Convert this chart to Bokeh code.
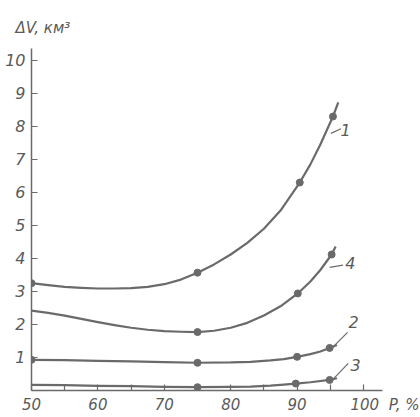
from bokeh.plotting import figure
from bokeh.models import Range1d, FixedTicker, Label, Title
from bokeh.embed import file_html
from bokeh.resources import INLINE

# ---- data ----
# smooth curve traces (P, %) -> dV (km^3)
c1_x = [50, 52.5, 55, 57.5, 60, 62.5, 65, 67.5, 70, 72.5, 75, 77.5, 80, 82.5, 85, 87.5, 90.4, 92, 93.5, 95.4, 96.2]
c1_y = [3.25, 3.19, 3.14, 3.11, 3.09, 3.09, 3.10, 3.14, 3.22, 3.36, 3.57, 3.82, 4.12, 4.47, 4.90, 5.45, 6.30, 6.85, 7.45, 8.30, 8.73]
c4_x = [50, 52.5, 55, 57.5, 60, 62.5, 65, 67.5, 70, 72.5, 75, 77.5, 80, 82.5, 85, 87.5, 90.1, 92, 93.5, 95.2, 95.8]
c4_y = [2.42, 2.35, 2.27, 2.17, 2.07, 1.98, 1.90, 1.84, 1.80, 1.78, 1.77, 1.81, 1.90, 2.05, 2.27, 2.55, 2.94, 3.30, 3.65, 4.12, 4.36]
c2_x = [50, 55, 60, 65, 70, 75, 80, 83, 86, 88, 90, 92, 93.5, 94.9, 96]
c2_y = [0.93, 0.92, 0.90, 0.88, 0.86, 0.84, 0.85, 0.87, 0.91, 0.95, 1.02, 1.10, 1.18, 1.29, 1.38]
c3_x = [50, 55, 60, 65, 70, 75, 80, 83, 86, 88, 89.8, 92, 94.9, 96]
c3_y = [0.17, 0.16, 0.14, 0.13, 0.11, 0.10, 0.11, 0.12, 0.15, 0.18, 0.21, 0.25, 0.32, 0.37]

# measured points (markers)
m1_x = [50, 75, 90.4, 95.4]
m1_y = [3.25, 3.57, 6.30, 8.30]
m4_x = [75, 90.1, 95.2]
m4_y = [1.77, 2.94, 4.12]
m2_x = [50, 75, 90, 94.9]
m2_y = [0.93, 0.84, 1.02, 1.29]
m3_x = [75, 89.8, 94.9]
m3_y = [0.10, 0.21, 0.32]

curve_names = ["1", "4", "2", "3"]
x_ticks = [50, 55, 60, 65, 70, 75, 80, 85, 90, 95, 100]
NB = "\u00a0"
x_labels = {50: "50", 60: "60", 70: "70", 80: "80", 90: "90",
            100: NB * 9 + "100" + NB * 2 + "P," + NB + "%"}
y_ticks = [1, 2, 3, 4, 5, 6, 7, 8, 9, 10]
y_title = "\u0394V, \u043a\u043c\u00b3"

INK = "#6a6a6a"
TXT = "#5a5a5a"
FONT = "DejaVu Sans"

p = figure(frame_width=351, frame_height=342,
           x_range=Range1d(50, 102.86), y_range=Range1d(0, 10.36),
           output_backend="svg", toolbar_location=None,
           min_border_left=31, min_border_right=38,
           min_border_top=48, min_border_bottom=27)
p.outline_line_color = None
p.grid.visible = False
p.background_fill_color = "white"
p.border_fill_color = "white"

for ax in (p.xaxis[0], p.yaxis[0]):
    ax.axis_line_color = INK
    ax.axis_line_width = 1.5
    ax.major_tick_line_color = INK
    ax.major_tick_line_width = 1.2
    ax.major_tick_in = 6
    ax.major_tick_out = 0
    ax.minor_tick_line_color = None
    ax.major_label_text_color = TXT
    ax.major_label_text_font = FONT
    ax.major_label_text_font_style = "italic"

p.xaxis.ticker = FixedTicker(ticks=x_ticks)
p.xaxis.major_label_overrides = {t: x_labels.get(t, "") for t in x_ticks}
p.xaxis.major_label_text_font_size = "15px"
p.xaxis.major_label_standoff = 5
p.yaxis.ticker = FixedTicker(ticks=y_ticks)
p.yaxis.major_label_text_font_size = "16px"
p.yaxis.major_label_standoff = 6

for xs, ys in [(c1_x, c1_y), (c4_x, c4_y), (c2_x, c2_y), (c3_x, c3_y)]:
    p.line(xs, ys, line_color=INK, line_width=2.2, line_join="round")
for xs, ys in [(m1_x, m1_y), (m4_x, m4_y), (m2_x, m2_y), (m3_x, m3_y)]:
    p.scatter(xs, ys, size=7, fill_color=INK, line_color=INK)

# curve labels with leader lines
label_pos = [(97.3, 7.88), (98.0, 3.85), (98.5, 2.09), (98.8, 0.76)]
leaders = [((95.1, 7.79), (96.6, 7.93)), ((94.9, 3.73), (96.9, 3.80)),
           ((95.3, 1.30), (97.6, 1.76)), ((95.5, 0.36), (97.7, 0.82))]
p.segment(x0=[a[0][0] for a in leaders], y0=[a[0][1] for a in leaders],
          x1=[a[1][0] for a in leaders], y1=[a[1][1] for a in leaders],
          line_color=INK, line_width=1.2)
for name, (lx, ly) in zip(curve_names, label_pos):
    p.add_layout(Label(x=lx, y=ly, text=name, text_align="center",
                       text_baseline="middle", text_font=FONT,
                       text_font_style="italic", text_font_size="16px",
                       text_color=TXT))

t = Title(text=y_title, align="left", offset=-16, standoff=23,
          text_font=FONT, text_font_style="italic", text_font_size="15px",
          text_color=TXT)
p.add_layout(t, "above")

open("out.html", "w").write(file_html(p, INLINE))
